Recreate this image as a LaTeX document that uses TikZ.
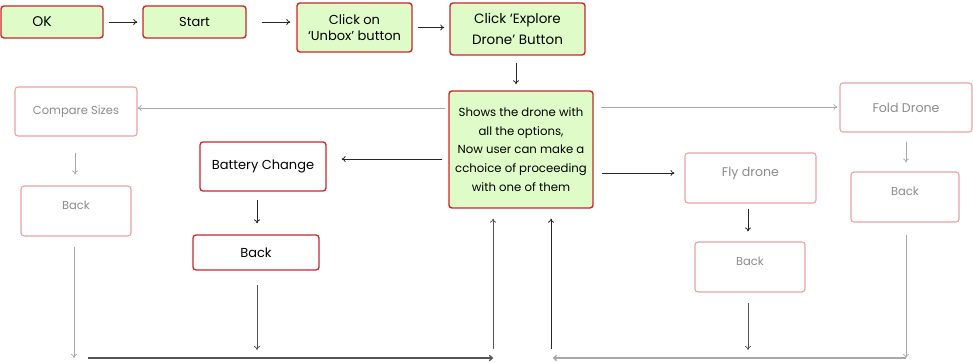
\documentclass[tikz,border=0pt]{standalone}
\usepackage{fontspec}
\setmainfont{Poppins}
\usetikzlibrary{arrows.meta}
\definecolor{gfill}{HTML}{DFFCC8}
\definecolor{dred}{HTML}{C9252D}
\definecolor{lred}{HTML}{EBA0A5}
\definecolor{gtext}{HTML}{8C8C8C}
\definecolor{garrow}{HTML}{A8A8A8}
\definecolor{darrow}{HTML}{555555}
\tikzset{
  box/.style={draw, rounded corners=3pt, align=center, inner sep=1pt},
  gbox/.style={box, fill=gfill, draw=dred, line width=1.4pt, text=black},
  rbox/.style={box, fill=white, draw=dred, line width=1.3pt, text=black},
  lbox/.style={box, fill=white, draw=lred, line width=1.1pt, text=gtext},
  uptext/.style={text height=7pt, text depth=10pt},
  sz/.style={font=\fontsize{#1}{#1}\selectfont},
  ga/.style={draw=garrow, line width=0.7pt, -{To[length=4pt,width=6pt]}},
  ba/.style={draw=black!85, line width=0.8pt, -{To[length=4pt,width=6pt]}},
  da/.style={draw=darrow, line width=0.8pt, -{To[length=4pt,width=6pt]}},
}
\begin{document}
\begin{tikzpicture}[x=1pt,y=-1pt]
\useasboundingbox (0,0) rectangle (973,363);
% top row
\node[gbox, sz=14, minimum width=102, minimum height=32] (ok) at (52,22) {\hspace*{-20pt}OK};
\node[gbox, sz=13, minimum width=103, minimum height=32] (start) at (194.5,22) {Start};
\node[gbox, minimum width=115, minimum height=49, font={\fontsize{13}{16}\selectfont}] (unbox) at (354.5,27.5) {Click on\\‘Unbox’ button};
\node[gbox, minimum width=135, minimum height=52, font={\fontsize{13.5}{21}\selectfont}] (explore) at (517.5,29) {Click ‘Explore\\Drone’ Button};
% centre
\node[gbox, minimum width=144, minimum height=117, font={\fontsize{11.7}{18.7}\selectfont}] (centre) at (521,149.5) {Shows the drone with\\all the options,\\Now user can make a\\cchoice of proceeding\\with one of them};
% left
\node[lbox, sz=11.5, minimum width=122, minimum height=49] (compare) at (76,111.5) {Compare Sizes};
\node[lbox, sz=11.5, uptext, minimum width=110, minimum height=50] (backl) at (76,211) {Back};
\node[rbox, sz=13, minimum width=126, minimum height=49] (battery) at (263,166.5) {Battery Change};
\node[rbox, sz=13, minimum width=126, minimum height=35] (backm) at (256,252.5) {Back};
% right
\node[lbox, sz=12.6, minimum width=132, minimum height=49] (fold) at (906,107.5) {Fold Drone};
\node[lbox, sz=11.5, uptext, minimum width=108, minimum height=50] (backr) at (905,197) {Back};
\node[lbox, sz=12.6, uptext, minimum width=131, minimum height=50] (fly) at (750.5,178) {Fly drone};
\node[lbox, sz=11.5, uptext, minimum width=110, minimum height=50] (backf) at (750,267) {Back};
% coordinates for free ends
\coordinate (bl1) at (74,247);
\coordinate (bl2) at (74,358);
\coordinate (bm1) at (257,285);
\coordinate (bm2) at (257,350);
\coordinate (hl1) at (88,358);
\coordinate (hl2) at (493,358);
\coordinate (u1a) at (493,349);
\coordinate (u2a) at (551,349);
\coordinate (hr1) at (906,358);
\coordinate (hr2) at (553,358);
\coordinate (br1) at (906,235);
\coordinate (br2) at (906,358);
\coordinate (bf1) at (748,303);
\coordinate (bf2) at (748,350);
% top arrows
\draw[ba] ([xshift=5pt]ok.east) -- ([xshift=-5pt]start.west);
\draw[ba] ([xshift=15pt]start.east) -- ([xshift=-6pt]unbox.west |- start.east);
\draw[ba] ([xshift=5pt]unbox.east) -- ([xshift=-5pt]explore.west |- unbox.east);
\draw[ba] ([yshift=-7pt]explore.south -| 516,0) -- ([yshift=6pt]centre.north -| 516,0);
% centre outputs
\draw[ga] ([xshift=-3pt]centre.west |- 0,108) -- (compare.east |- 0,108);
\draw[ba] ([xshift=-6pt]centre.west |- 0,159) -- ([xshift=15pt]battery.east |- 0,159);
\draw[ga] ([xshift=7pt]centre.east |- 0,107) -- ([xshift=-2pt]fold.west |- 0,107);
\draw[ba] ([xshift=8pt]centre.east |- 0,173) -- ([xshift=-10pt]fly.west |- 0,173);
% verticals
\draw[ga] ([yshift=-16pt]compare.south -| 75,0) -- ([yshift=11pt]backl.north -| 75,0);
\draw[ga] (bl1) -- (bl2);
\draw[ba] ([yshift=-8pt]battery.south -| 257,0) -- ([yshift=11pt]backm.north -| 257,0);
\draw[da] (bm1) -- (bm2);
\draw[ga] ([yshift=-9pt]fold.south) -- ([yshift=9pt]backr.north -| fold.south);
\draw[ga] (br1) -- (br2);
\draw[ba] ([yshift=-5pt]fly.south -| 748,0) -- ([yshift=10pt]backf.north -| 748,0);
\draw[da] (bf1) -- (bf2);
% bottom returns
\draw[draw=darrow, line width=1.3pt, -{To[length=4pt,width=6pt]}] (hl1) -- (hl2);
\draw[draw=garrow, line width=1.3pt, -{To[length=4pt,width=6pt]}] (hr1) -- (hr2);
\draw[da] (u1a) -- ([yshift=-10pt]centre.south -| u1a);
\draw[ba] (u2a) -- ([yshift=-10pt]centre.south -| u2a);
\end{tikzpicture}
\end{document}
